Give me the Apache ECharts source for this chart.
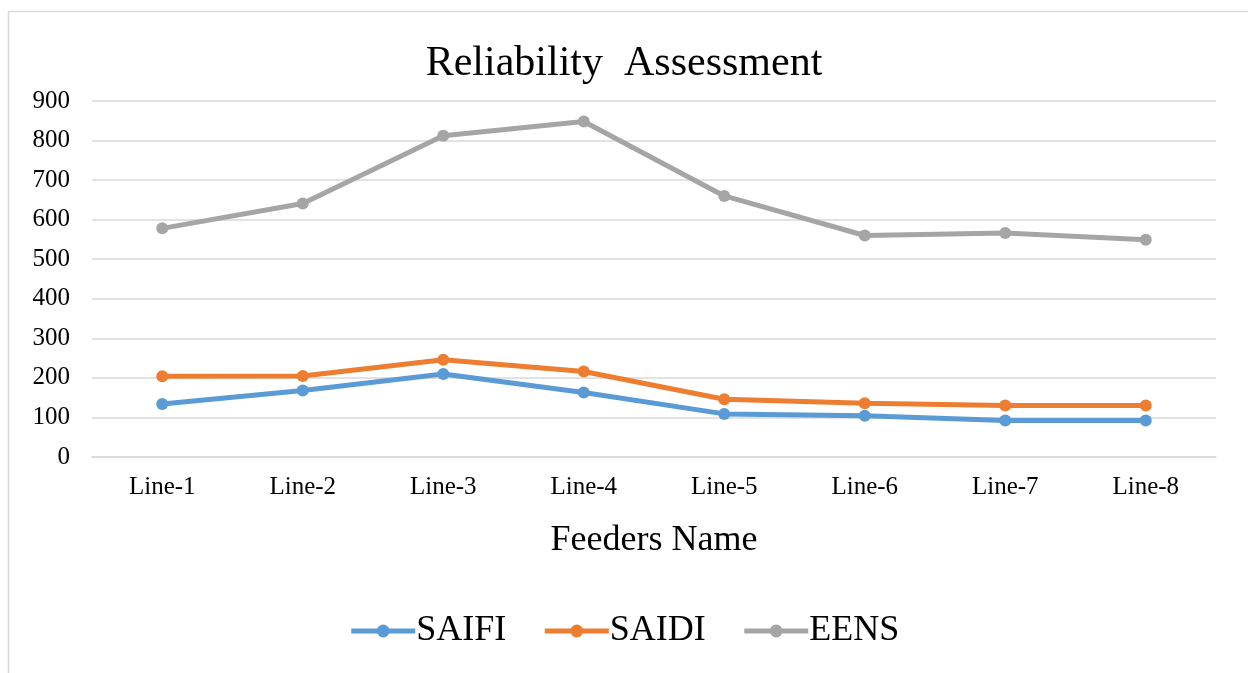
<!DOCTYPE html>
<html>
<head>
<meta charset="utf-8">
<script src="https://cdn.jsdelivr.net/npm/echarts@6/dist/echarts.min.js"></script>
<style>
html, body { margin: 0; padding: 0; background: #fff; }
#main { width: 1248px; height: 673px; }
</style>
</head>
<body>
<div id="main"></div>
<script>
var categories = ['Line-1', 'Line-2', 'Line-3', 'Line-4', 'Line-5', 'Line-6', 'Line-7', 'Line-8'];
var saifi = [134, 168, 210, 163, 109, 104, 92, 92];
var saidi = [204, 205, 246, 216, 146, 136, 130, 130];
var eens = [578, 641, 812, 848, 660, 560, 566, 549];
var yTicks = [0, 900, 100]; // min, max, interval

var serif = '"Liberation Serif", "DejaVu Serif", serif';
var myChart = echarts.init(document.getElementById('main'));

function lineSeries(name, data, color) {
	return {
		name: name,
		type: 'line',
		data: data,
		symbol: 'circle',
		symbolSize: 12,
		lineStyle: { width: 5, color: color },
		itemStyle: { color: color },
		animation: false
	};
}

myChart.setOption({
	backgroundColor: '#fff',
	graphic: [{
		type: 'rect',
		shape: { x: 8.5, y: 11.5, width: 1260, height: 700 },
		style: { fill: 'none', stroke: '#d9d9d9', lineWidth: 1.5 },
		silent: true
	}],
	title: {
		text: 'Reliability  Assessment',
		left: 'center',
		top: 38,
		textStyle: { fontFamily: serif, fontSize: 42, fontWeight: 'normal', color: '#000' }
	},
	grid: { left: 92, right: 32, top: 101, bottom: 216 },
	legend: {
		top: 608,
		left: 'center',
		itemWidth: 64,
		itemHeight: 16,
		itemGap: 36,
		lineStyle: { width: 5 },
		textStyle: { fontFamily: serif, fontSize: 36, color: '#000', padding: [0, 0, 0, -4] },
		data: ['SAIFI', 'SAIDI', 'EENS']
	},
	xAxis: {
		type: 'category',
		data: categories,
		boundaryGap: true,
		name: 'Feeders Name',
		nameLocation: 'middle',
		nameGap: 66,
		nameTextStyle: { fontFamily: serif, fontSize: 36, color: '#000' },
		axisLine: { show: true, lineStyle: { color: '#d9d9d9', width: 1.5 } },
		axisTick: { show: false },
		axisLabel: { fontFamily: serif, fontSize: 25, color: '#000', margin: 18 }
	},
	yAxis: {
		type: 'value',
		min: yTicks[0],
		max: yTicks[1],
		interval: yTicks[2],
		axisLine: { show: false },
		axisTick: { show: false },
		axisLabel: { fontFamily: serif, fontSize: 25, color: '#000', margin: 22 },
		splitLine: { lineStyle: { color: '#d9d9d9', width: 1.5 } }
	},
	series: [
		lineSeries('SAIFI', saifi, '#5b9bd5'),
		lineSeries('SAIDI', saidi, '#ed7d31'),
		lineSeries('EENS', eens, '#a5a5a5')
	]
});
</script>
</body>
</html>
